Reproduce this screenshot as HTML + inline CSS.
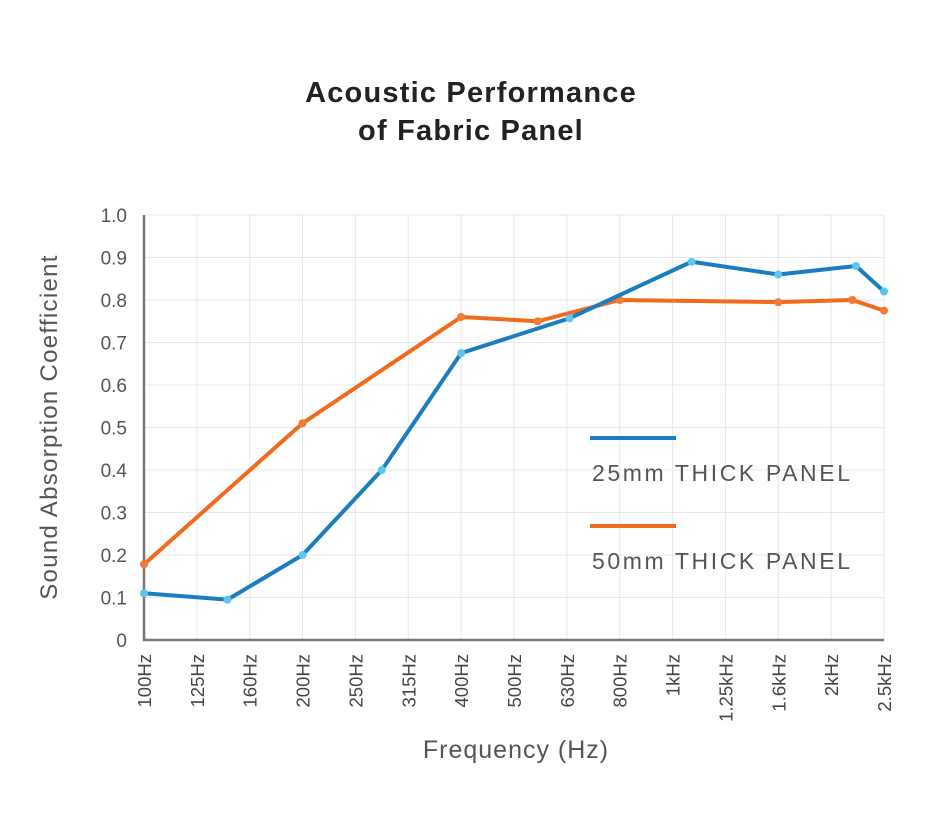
<!DOCTYPE html>
<html><head><meta charset="utf-8"><style>
body{margin:0;background:#fff;}
svg text{font-family:"Liberation Sans",sans-serif;}
</style></head><body>
<svg width="936" height="811" xmlns="http://www.w3.org/2000/svg">
<text x="471" y="102" text-anchor="middle" font-size="29" font-weight="bold" fill="#222" letter-spacing="1.2">Acoustic Performance</text>
<text x="471" y="140" text-anchor="middle" font-size="29" font-weight="bold" fill="#222" letter-spacing="1.2">of Fabric Panel</text>
<g id="grid"></g><g id="axes"></g><g id="series"></g>
<text transform="translate(57,427) rotate(-90)" text-anchor="middle" font-size="24" fill="#555" letter-spacing="1.3">Sound Absorption Coefficient</text>
<text x="516" y="758" text-anchor="middle" font-size="25" fill="#555" letter-spacing="1">Frequency (Hz)</text>
<line x1="590" y1="438" x2="676" y2="438" stroke="#1a7dbf" stroke-width="4"/>
<text x="592" y="481" font-size="23" fill="#555" letter-spacing="2.6">25mm THICK PANEL</text>
<line x1="590" y1="526" x2="676" y2="526" stroke="#f26a1b" stroke-width="4"/>
<text x="592" y="569" font-size="23" fill="#555" letter-spacing="2.6">50mm THICK PANEL</text>
</svg>
<script>
const categories=["100Hz","125Hz","160Hz","200Hz","250Hz","315Hz","400Hz","500Hz","630Hz","800Hz","1kHz","1.25kHz","1.6kHz","2kHz","2.5kHz"];
const yTicks=[0,0.1,0.2,0.3,0.4,0.5,0.6,0.7,0.8,0.9,1.0];
const yTickLabels=["0","0.1","0.2","0.3","0.4","0.5","0.6","0.7","0.8","0.9","1.0"];
const blueX=[0,1.58,3,4.5,6,8.05,10.36,12,13.47,14];
const blueY=[0.11,0.095,0.2,0.4,0.675,0.757,0.89,0.86,0.88,0.82];
const orangeX=[0,3,6,7.45,9,12,13.4,14];
const orangeY=[0.178,0.51,0.76,0.75,0.80,0.795,0.80,0.775];
const NS="http://www.w3.org/2000/svg";
const X0=144,X1=884,Y0=640,Y1=215;
function xs(i){return X0+(X1-X0)*i/(categories.length-1);}
function ys(v){return Y0-(Y0-Y1)*v;}
function mk(tag,attrs,parent){const e=document.createElementNS(NS,tag);for(const k in attrs)e.setAttribute(k,attrs[k]);document.getElementById(parent).appendChild(e);return e;}
categories.forEach((c,i)=>{
 const g=mk('line',{x1:xs(i),x2:xs(i),y1:Y1,y2:Y0,stroke:'#e8e8e8','stroke-width':1},'grid');
 
 
 const t=mk('text',{transform:`translate(${xs(i)+7},654) rotate(-90)`,'text-anchor':'end','font-size':18.5,fill:'#444'},'axes');
 t.textContent=c;
 
 
});
yTicks.forEach((v,i)=>{
 const g=mk('line',{x1:X0,x2:X1,y1:ys(v),y2:ys(v),stroke:'#e8e8e8','stroke-width':1},'grid');
 
 
 const t=mk('text',{x:127,y:ys(v)+7,'text-anchor':'end','font-size':19,fill:'#555'},'axes');
 t.textContent=yTickLabels[i];
 
 
});
const ax=mk('path',{d:`M${X0} ${Y1} V${Y0} H${X1}`,fill:'none',stroke:'#777','stroke-width':2.5},'axes');


function series(xv,yv,color,mcol,name){
 const p=mk('polyline',{points:xv.map((x,i)=>xs(x)+','+ys(yv[i])).join(' '),fill:'none',stroke:color,'stroke-width':4,'stroke-linejoin':'round'},'series');
 
 
 xv.forEach((x,i)=>{
  const c=mk('circle',{cx:xs(x),cy:ys(yv[i]),r:4,fill:mcol},'series');
  
  
 });
}
series(orangeX,orangeY,'#f26a1b','#f47a35','series-50mm');
series(blueX,blueY,'#1a7dbf','#5cc6ee','series-25mm');
</script>
</body></html>
